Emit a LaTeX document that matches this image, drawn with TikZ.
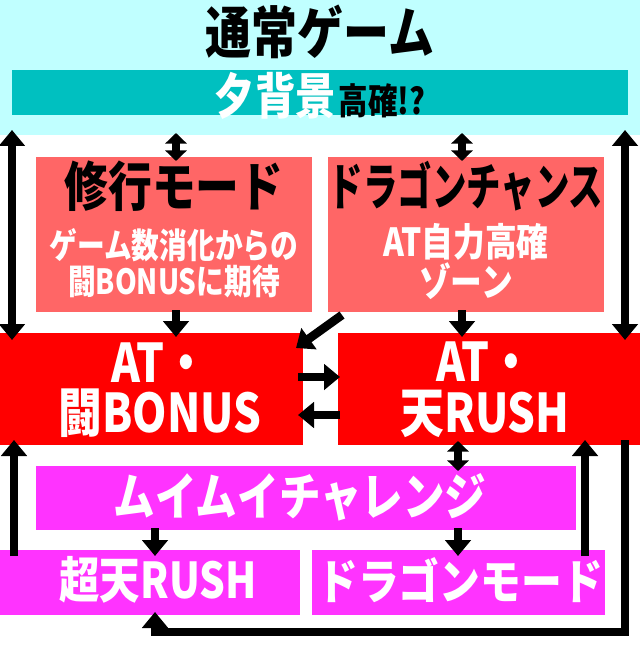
\documentclass[tikz,border=0pt]{standalone}
\usepackage{fontspec}
\setmainfont{Noto Sans CJK JP}
\usetikzlibrary{arrows.meta}
\definecolor{lcyan}{HTML}{C0FFFF}
\definecolor{teal2}{HTML}{00C0C0}
\definecolor{pink2}{HTML}{FF6666}
\definecolor{red2}{HTML}{FF0000}
\definecolor{mag}{HTML}{FF33FF}
\newcommand{\nar}[2][0.82]{\scalebox{#1}[1]{#2}}
\tikzset{
 arr/.style={line width=6.5pt,-{Triangle[width=19pt,length=12pt]}},
 darr/.style={line width=6.5pt,{Triangle[width=19pt,length=12pt]}-{Triangle[width=19pt,length=12pt]}},
 sarr/.style={line width=6pt,{Triangle[width=16pt,length=8pt]}-{Triangle[width=16pt,length=8pt]}},
 wt/.style={text=white,font=\bfseries\fontsize{#1}{#1}\selectfont},
 bt/.style={text=black,font=\bfseries\fontsize{#1}{#1}\selectfont},
}
\begin{document}
\begin{tikzpicture}[x=0.75pt,y=-0.75pt]
\useasboundingbox (0,0) rectangle (640,645);
\fill[lcyan] (0,0) rectangle (640,135);
\node[bt=42] (title) at (320,32) {\nar{通常ゲーム}};
\fill[teal2] (12,70) rectangle (628,115);
\node (yu) at (320,96) {\textcolor{white}{\bfseries\fontsize{37}{37}\selectfont\nar{夕背景}}\,\textcolor{black}{\bfseries\fontsize{27}{27}\selectfont\nar{高確!?}}};
% mode boxes
\fill[pink2] (36,157) rectangle (312,312);
\fill[pink2] (328,157) rectangle (604,312);
\node[bt=40] (shugyo) at (174,186) {\nar{修行モード}};
\node[wt=26,align=center] (shusub) at (174,263) {\nar[0.8]{ゲーム数消化からの}\\[1pt]\nar[0.8]{闘BONUSに期待}};
\node[bt=38] (dragon) at (466,186) {\nar[0.68]{ドラゴンチャンス}};
\node[wt=29,align=center] (dragsub) at (466,262) {\nar{AT自力高確}\\[1pt]\nar{ゾーン}};
% AT boxes
\fill[red2] (0,333) rectangle (303,445);
\fill[red2] (338,333) rectangle (640,445);
\node[wt=40,align=center] (atb) at (160,390) {\nar{AT・}\\[-2pt]\nar{闘BONUS}};
\node[wt=40,align=center] (atr) at (485,390) {\nar{AT・}\\[-2pt]\nar{天RUSH}};
% magenta
\fill[mag] (36,466) rectangle (576,530);
\fill[mag] (0,550) rectangle (300,615);
\fill[mag] (312,550) rectangle (605,615);
\node[wt=38] (mui) at (300,497) {\nar{ムイムイチャレンジ}};
\node[wt=37] (chou) at (158,580) {\nar{超天RUSH}};
\node[wt=36] (drm) at (460,580) {\nar[0.85]{ドラゴンモード}};
% coordinates
\coordinate (l1) at (12,130); \coordinate (l2) at (12,340);
\coordinate (r1) at (625,130); \coordinate (r2) at (625,340);
\coordinate (s1) at (176,133); \coordinate (s2) at (176,161);
\coordinate (s3) at (462,133); \coordinate (s4) at (462,161);
\coordinate (d1) at (176,310); \coordinate (d2) at (176,337);
\coordinate (d3) at (462,310); \coordinate (d4) at (462,337);
\coordinate (g1) at (342,315); \coordinate (g2) at (296,348);
\coordinate (h1) at (298,377); \coordinate (h2) at (340,377);
\coordinate (h3) at (340,415); \coordinate (h4) at (298,415);
\coordinate (m1) at (458,441); \coordinate (m2) at (458,471);
\coordinate (n1) at (155,528); \coordinate (n2) at (155,556);
\coordinate (n3) at (458,528); \coordinate (n4) at (458,556);
\coordinate (u1) at (14,556); \coordinate (u2) at (14,440);
\coordinate (v1) at (585,556); \coordinate (v2) at (585,440);
\coordinate (w1) at (625,440); \coordinate (w2) at (155,612);
\draw[darr] (l1) -- (l2);
\draw[darr] (r1) -- (r2);
\draw[sarr] (s1) -- (s2);
\draw[sarr] (s3) -- (s4);
\draw[arr] (d1) -- (d2);
\draw[arr] (d3) -- (d4);
\draw[arr] (g1) -- (g2);
\draw[arr] (h1) -- (h2);
\draw[arr] (h3) -- (h4);
\draw[sarr] (m1) -- (m2);
\draw[arr] (n1) -- (n2);
\draw[arr] (n3) -- (n4);
\draw[arr] (u1) -- (u2);
\draw[arr] (v1) -- (v2);
\draw[arr] (w1) -- (625,632) -- (155,632) -- (w2);
\end{tikzpicture}
\end{document}
